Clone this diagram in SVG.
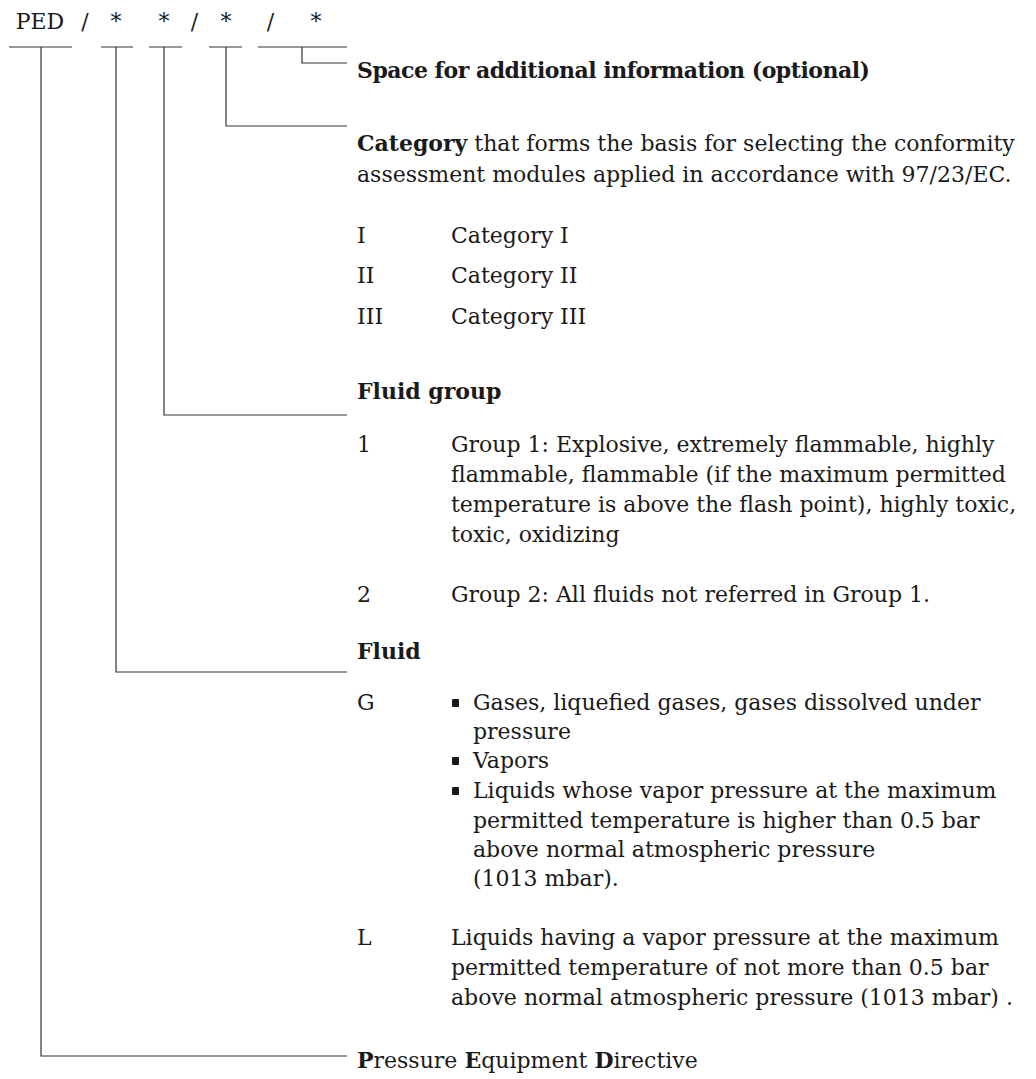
<svg xmlns="http://www.w3.org/2000/svg" width="1036" height="1079" viewBox="0 0 1036 1079">
<style>
.t{font-family:"DejaVu Serif","Liberation Serif",serif;font-size:22px;fill:#1a1a1a}
.b{font-weight:bold}
.m{text-anchor:middle}
.ln{stroke:#333;stroke-width:1.2;fill:none}
.bul{fill:#1a1a1a}
</style>
<rect width="1036" height="1079" fill="#fff"/>
<g id="header">
<text class="t m" x="40" y="29">PED</text>
<text class="t m" x="85" y="29">/</text>
<text class="t m" x="116" y="29">*</text>
<text class="t m" x="164" y="29">*</text>
<text class="t m" x="194.5" y="29">/</text>
<text class="t m" x="226" y="29">*</text>
<text class="t m" x="270.5" y="29">/</text>
<text class="t m" x="316" y="29">*</text>
</g>
<g id="connectors">
<path class="ln" d="M9 47H72M101 47H133M149 47H182M209 47H242M258 47H347"/>
<path class="ln" d="M302 47V63H347"/>
<path class="ln" d="M226 47V126H347"/>
<path class="ln" d="M164 47V415H347"/>
<path class="ln" d="M116 47V672H347"/>
<path class="ln" d="M41 47V1056H347"/>
</g>
<g id="space">
<text class="t b" x="357" y="78" letter-spacing="-0.5">Space for additional information (optional)</text>
</g>
<g id="category">
<text class="t" x="357" y="151"><tspan class="b">Category</tspan> that forms the basis for selecting the conformity</text>
<text class="t" x="357" y="182">assessment modules applied in accordance with 97/23/EC.</text>
<text class="t" x="357" y="243">I</text>
<text class="t" x="451" y="243">Category I</text>
<text class="t" x="357" y="283">II</text>
<text class="t" x="451" y="283">Category II</text>
<text class="t" x="357" y="324">III</text>
<text class="t" x="451" y="324">Category III</text>
</g>
<g id="fluid-group">
<text class="t b" x="357" y="399">Fluid group</text>
<text class="t" x="357" y="452">1</text>
<text class="t" x="451" y="452">Group 1: Explosive, extremely flammable, highly</text>
<text class="t" x="451" y="482">flammable, flammable (if the maximum permitted</text>
<text class="t" x="451" y="512">temperature is above the flash point), highly toxic,</text>
<text class="t" x="451" y="542">toxic, oxidizing</text>
<text class="t" x="357" y="602">2</text>
<text class="t" x="451" y="602">Group 2: All fluids not referred in Group 1.</text>
</g>
<g id="fluid">
<text class="t b" x="357" y="659">Fluid</text>
<text class="t" x="357" y="710">G</text>
<rect class="bul" x="452" y="699" width="7" height="8" rx="1"/>
<text class="t" x="473" y="710">Gases, liquefied gases, gases dissolved under</text>
<text class="t" x="473" y="739">pressure</text>
<rect class="bul" x="452" y="757" width="7" height="8" rx="1"/>
<text class="t" x="473" y="768">Vapors</text>
<rect class="bul" x="452" y="787" width="7" height="8" rx="1"/>
<text class="t" x="473" y="798">Liquids whose vapor pressure at the maximum</text>
<text class="t" x="473" y="828">permitted temperature is higher than 0.5 bar</text>
<text class="t" x="473" y="857">above normal atmospheric pressure</text>
<text class="t" x="473" y="886">(1013 mbar).</text>
<text class="t" x="357" y="945">L</text>
<text class="t" x="451" y="945">Liquids having a vapor pressure at the maximum</text>
<text class="t" x="451" y="975">permitted temperature of not more than 0.5 bar</text>
<text class="t" x="451" y="1005">above normal atmospheric pressure (1013 mbar) .</text>
</g>
<g id="ped">
<text class="t" x="357" y="1068"><tspan class="b">P</tspan>ressure <tspan class="b">E</tspan>quipment <tspan class="b">D</tspan>irective</text>
</g>
</svg>
